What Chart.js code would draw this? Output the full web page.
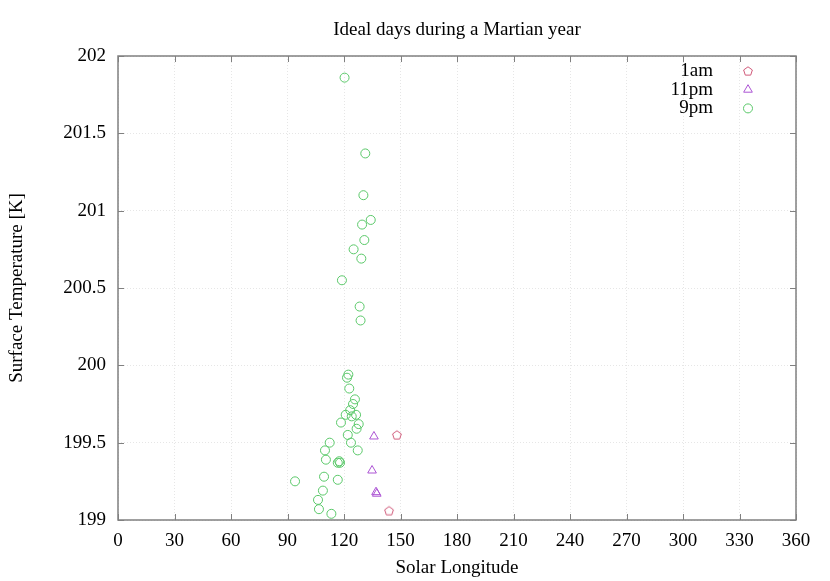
<!DOCTYPE html>
<html>
<head>
<meta charset="utf-8">
<script src="https://cdn.jsdelivr.net/npm/chart.js@4.4.0/dist/chart.umd.min.js"></script>
<style>
  html, body { margin: 0; padding: 0; background: #fff; }
  #wrap { width: 830px; height: 581px; }
</style>
</head>
<body>
<div id="wrap"><canvas id="myChart"></canvas></div>
<script>
// data: [solar longitude, surface temperature]
var seriesNames = ['1am', '11pm', '9pm'];

var lon1am  = [148.1, 143.9];
var temp1am = [199.55, 199.06];

var lon11pm  = [135.9, 134.9, 137.0, 137.4];
var temp11pm = [199.54, 199.32, 199.18, 199.17];

var lon9pm = [120.3, 131.3, 130.3, 134.2, 129.6, 130.8, 125.1, 129.2, 118.9, 128.3, 128.8,
              122.3, 121.6, 122.8, 125.8, 124.8, 123.3, 126.4, 120.9, 124.1, 118.4, 127.8,
              126.7, 122.0, 123.7, 112.4, 127.3, 109.9, 110.4, 117.5, 116.7, 117.9, 94.0,
              109.4, 116.7, 108.8, 106.2, 106.7, 113.3];
var temp9pm = [201.86, 201.37, 201.10, 200.94, 200.91, 200.81, 200.75, 200.69, 200.55, 200.38, 200.29,
               199.94, 199.92, 199.85, 199.78, 199.75, 199.71, 199.68, 199.68, 199.67, 199.63, 199.62,
               199.59, 199.55, 199.50, 199.50, 199.45, 199.45, 199.39, 199.38, 199.37, 199.37, 199.25,
               199.28, 199.26, 199.19, 199.13, 199.07, 199.04];

var xTicksStep = 30;
var yTicksStep = 0.5;

var colPink = 'rgb(208,90,122)';
var colPurple = 'rgb(172,84,212)';
var colGreen = 'rgb(90,200,105)';
var fontFam = '"Liberation Serif", "DejaVu Serif", serif';
var fontSize = 19;

function toPoints(xs, ys) {
  var pts = [];
  for (var i = 0; i < xs.length; i++) pts.push({x: xs[i], y: ys[i]});
  return pts;
}

// pentagon marker, the library has none
function makePentagon(color) {
  var c = document.createElement('canvas');
  c.width = 12; c.height = 12;
  var g = c.getContext('2d');
  g.strokeStyle = color;
  g.lineWidth = 1;
  g.beginPath();
  for (var k = 0; k < 5; k++) {
    var a = -Math.PI / 2 + k * 2 * Math.PI / 5;
    var px = 6 + 4.6 * Math.cos(a), py = 6.4 + 4.6 * Math.sin(a);
    if (k == 0) g.moveTo(px, py); else g.lineTo(px, py);
  }
  g.closePath();
  g.stroke();
  return c;
}
var pentagon = makePentagon(colPink);

// gnuplot-like box with inward ticks on all four sides
var boxPlugin = {
  id: 'box',
  afterDatasetsDraw: function(chart) {
    var ctx = chart.ctx, a = chart.chartArea;
    var xs = chart.scales.x, ys = chart.scales.y;
    ctx.save();
    ctx.strokeStyle = '#808080';
    ctx.lineWidth = 1;
    ctx.beginPath();
    xs.ticks.forEach(function(t) {
      var px = Math.round(xs.getPixelForValue(t.value)) + 0.5;
      ctx.moveTo(px, a.bottom); ctx.lineTo(px, a.bottom - 6);
      ctx.moveTo(px, a.top); ctx.lineTo(px, a.top + 6);
    });
    ys.ticks.forEach(function(t) {
      var py = Math.round(ys.getPixelForValue(t.value)) + 0.5;
      ctx.moveTo(a.left, py); ctx.lineTo(a.left + 6, py);
      ctx.moveTo(a.right, py); ctx.lineTo(a.right - 6, py);
    });
    ctx.stroke();
    ctx.lineWidth = 1.5;
    ctx.strokeRect(a.left, a.top, a.right - a.left, a.bottom - a.top);
    ctx.restore();
  }
};

// legend inside the plot, top right, text right aligned then marker
var keyPlugin = {
  id: 'key',
  afterDraw: function(chart) {
    var ctx = chart.ctx;
    ctx.save();
    ctx.font = fontSize + 'px ' + fontFam;
    ctx.textAlign = 'right';
    ctx.textBaseline = 'middle';
    chart.data.datasets.forEach(function(ds, i) {
      var y = 71 + i * 18.7;
      ctx.fillStyle = '#000';
      ctx.fillText(ds.label, 713, y);
      ctx.strokeStyle = ds.borderColor;
      ctx.fillStyle = 'rgba(0,0,0,0)';
      ctx.lineWidth = 1;
      Chart.helpers.drawPoint(ctx, {
        pointStyle: ds.pointStyle, radius: ds.pointRadius, rotation: 0, borderWidth: 1
      }, 748, y);
    });
    ctx.restore();
  }
};

const ctx = document.getElementById('myChart');
const myChart = new Chart(ctx, {
  type: 'scatter',
  data: {
    datasets: [{
      label: seriesNames[0],
      data: toPoints(lon1am, temp1am),
      pointStyle: pentagon,
      pointRadius: 5,
      borderColor: colPink,
      backgroundColor: 'rgba(0,0,0,0)',
      borderWidth: 1
    }, {
      label: seriesNames[1],
      data: toPoints(lon11pm, temp11pm),
      pointStyle: 'triangle',
      pointRadius: 5,
      borderColor: colPurple,
      backgroundColor: 'rgba(0,0,0,0)',
      borderWidth: 1
    }, {
      label: seriesNames[2],
      data: toPoints(lon9pm, temp9pm),
      pointStyle: 'circle',
      pointRadius: 4.5,
      borderColor: colGreen,
      backgroundColor: 'rgba(0,0,0,0)',
      borderWidth: 1
    }]
  },
  options: {
    responsive: true,
    maintainAspectRatio: false,
    animation: false,
    events: [],
    layout: { padding: { left: 0, right: 34, top: 0, bottom: 0 } },
    plugins: {
      legend: { display: false },
      tooltip: { enabled: false },
      title: {
        display: true,
        fullSize: false,
        text: 'Ideal days during a Martian year',
        color: '#000',
        font: { family: fontFam, size: fontSize, weight: 'normal' },
        padding: { top: 19, bottom: 14.2 }
      }
    },
    scales: {
      x: {
        type: 'linear',
        min: 0, max: 360,
        ticks: { stepSize: xTicksStep, color: '#000', padding: 10,
                 font: { family: fontFam, size: fontSize } },
        grid: { color: '#e6e6e6', drawTicks: false, lineWidth: 1 },
        border: { display: false, dash: [1, 2] },
        title: { display: true, text: 'Solar Longitude', color: '#000',
                 font: { family: fontFam, size: fontSize }, padding: { top: 0, bottom: 1.5 } },
        afterFit: function(scale) { scale.height = 61; }
      },
      y: {
        type: 'linear',
        min: 199, max: 202,
        ticks: { stepSize: yTicksStep, color: '#000', padding: 12,
                 font: { family: fontFam, size: fontSize },
                 callback: function(v) { return String(Math.round(v * 10) / 10); } },
        grid: { color: '#e6e6e6', drawTicks: false, lineWidth: 1 },
        border: { display: false, dash: [1, 2] },
        title: { display: true, text: 'Surface Temperature [K]', color: '#000',
                 font: { family: fontFam, size: fontSize }, padding: { top: 6, bottom: 0 } },
        afterFit: function(scale) { scale.width = 118; }
      }
    }
  },
  plugins: [boxPlugin, keyPlugin]
});
</script>
</body>
</html>
